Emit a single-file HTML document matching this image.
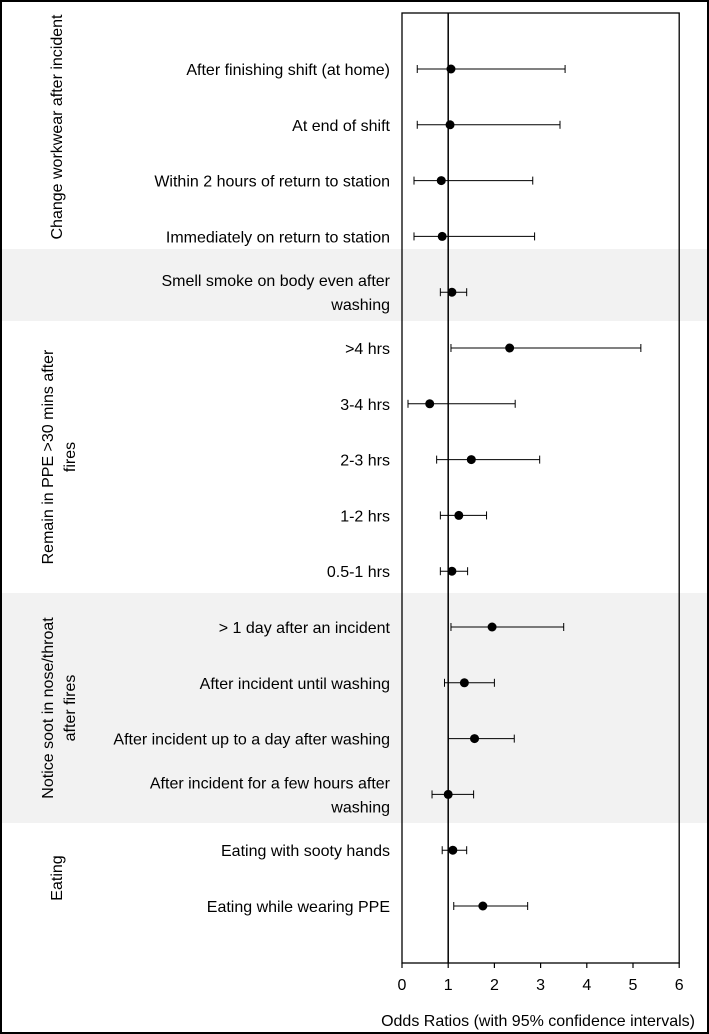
<!DOCTYPE html>
<html><head><meta charset="utf-8"><style>
body{margin:0;background:#fff}
svg{display:block;font-family:"Liberation Sans",Arial,sans-serif}
</style></head><body>
<svg id="c" width="709" height="1034">
<rect x="1" y="1" width="707" height="1032" fill="none" stroke="#000" stroke-width="2"/>
<rect x="2" y="249" width="705" height="72" fill="#f2f2f2"/>
<rect x="2" y="593" width="705" height="230" fill="#f2f2f2"/>
<g id="g"></g>
</svg>
<script>
const labels=["After finishing shift (at home)","At end of shift","Within 2 hours of return to station","Immediately on return to station","Smell smoke on body even after|washing",">4 hrs","3-4 hrs","2-3 hrs","1-2 hrs","0.5-1 hrs","> 1 day after an incident","After incident until washing","After incident up to a day after washing","After incident for a few hours after|washing","Eating with sooty hands","Eating while wearing PPE"];
const estimates=[1.06,1.04,0.85,0.87,1.08,2.33,0.6,1.5,1.23,1.08,1.95,1.35,1.57,1.0,1.1,1.75];
const lower=[0.33,0.33,0.26,0.26,0.83,1.06,0.13,0.75,0.83,0.83,1.06,0.92,1.0,0.65,0.87,1.12];
const upper=[3.53,3.42,2.83,2.87,1.4,5.17,2.45,2.98,1.83,1.42,3.5,2.0,2.43,1.55,1.4,2.72];
const ticks=[0,1,2,3,4,5,6];
const groups=[["Change workwear after incident"],["Remain in PPE >30 mins after","fires"],["Notice soot in nose/throat","after fires"],["Eating"]];
const groupCenters=[127,457,708,878];
const NS="http://www.w3.org/2000/svg";
const g=document.getElementById('g');
const X0=402,XS=46.2,TOP=13,BOT=963;
const xs=v=>X0+v*XS;
const ys=i=>69+i*55.8;
function el(t,a,p){const e=document.createElementNS(NS,t);for(const k in a)e.setAttribute(k,a[k]);(p||g).appendChild(e);return e;}
const box=el('rect',{x:X0,y:TOP,width:xs(6)-X0,height:BOT-TOP,fill:'none',stroke:'#000','stroke-width':1.3});


const ref=el('line',{x1:xs(1),x2:xs(1),y1:TOP,y2:BOT,stroke:'#000','stroke-width':1.5});


ticks.forEach(t=>{
 const l=el('line',{x1:xs(t),x2:xs(t),y1:BOT,y2:BOT+5,stroke:'#000','stroke-width':1.2});
 
 
 const tx=el('text',{x:xs(t),y:990,'text-anchor':'middle','font-size':16});
 tx.textContent=t;
 
 
});
const xt=el('text',{x:695,y:1026,'text-anchor':'end','font-size':16});
xt.textContent="Odds Ratios (with 95% confidence intervals)";


labels.forEach((lab,i)=>{
 const y=ys(i);const parts=lab.split('|');
 const t=el('text',{x:390,'text-anchor':'end','font-size':16});
 
 
 parts.forEach((p,j)=>{const s=el('tspan',{x:390,y:(parts.length>1?y-12+j*24:y)+6},t);s.textContent=p;});
 const ci=el('g',{});
 
 
 el('line',{x1:xs(lower[i]),x2:xs(upper[i]),y1:y,y2:y,stroke:'#000','stroke-width':1},ci);
 el('line',{x1:xs(lower[i]),x2:xs(lower[i]),y1:y-4,y2:y+4,stroke:'#000','stroke-width':1},ci);
 el('line',{x1:xs(upper[i]),x2:xs(upper[i]),y1:y-4,y2:y+4,stroke:'#000','stroke-width':1},ci);
 const d=el('circle',{cx:xs(estimates[i]),cy:y,r:4.5,fill:'#000'});
 
 
});
groups.forEach((gr,k)=>{
 const cy=groupCenters[k];
 const t=el('text',{transform:`translate(${gr.length>1?47:56},${cy}) rotate(-90)`,'text-anchor':'middle','font-size':16});
 
 
 gr.forEach((p,j)=>{const s=el('tspan',{x:0,y:6+j*22},t);s.textContent=p;});
});
</script>
</body></html>
